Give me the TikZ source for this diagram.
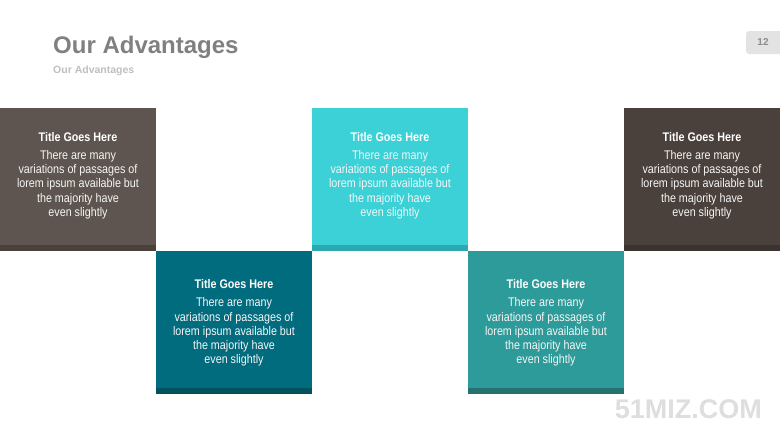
\documentclass[tikz,border=0pt]{standalone}
\usepackage{fontspec}
\setmainfont{Liberation Sans}
\newfontfamily\cardfont{Liberation Sans}[FakeStretch=0.86]
\usetikzlibrary{positioning}

\definecolor{taupe}{HTML}{5E5550}
\definecolor{taupedark}{HTML}{4A413D}
\definecolor{petrol}{HTML}{026C7F}
\definecolor{petroldark}{HTML}{01515F}
\definecolor{aqua}{HTML}{3BD1D6}
\definecolor{aquadark}{HTML}{2BA9AE}
\definecolor{jade}{HTML}{2D9B99}
\definecolor{jadedark}{HTML}{24716F}
\definecolor{cocoa}{HTML}{4A403C}
\definecolor{cocoadark}{HTML}{3A3330}

\tikzset{
  card/.style={rectangle, inner sep=0, anchor=north west, minimum width=156pt, minimum height=142.5pt},
  band/.style={rectangle, inner sep=0, anchor=south west, minimum width=156pt, minimum height=5.5pt},
  cardhead/.style={anchor=base, inner sep=0, text=white, font=\cardfont\bfseries\fontsize{12.5}{14}\selectfont},
  cardbody/.style={anchor=north, inner sep=0, align=center, text=white!93!gray, font=\cardfont\fontsize{12.5}{14.3}\selectfont}
}

\begin{document}
\begin{tikzpicture}[x=1pt, y=-1pt]
    \newcommand\CW{156}
    \newcommand\TopA{108}
    \newcommand\TopB{251}
    \newcommand\Blurb{There are many\\variations of passages of\\lorem ipsum available but\\the majority have\\even slightly}
    \useasboundingbox (0,0) rectangle (780,439);
    % heading
    \node[anchor=base west, inner sep=0, text=black!50, font=\bfseries\fontsize{24}{28}\selectfont] (Head) at (53,53) {Our Advantages};
    \node[anchor=base west, inner sep=0, text=black!25, font=\bfseries\fontsize{10.5}{12}\selectfont] (Sub) at (53,73) {Our Advantages};
    \fill[black!11, rounded corners=3pt] (746,31) rectangle (786,54);
    \node[inner sep=0, text=black!45, font=\bfseries\fontsize{10}{12}\selectfont] (Page) at (763,42.5) {12};
    % cards
    \node[card, fill=taupe] (C1) at (0,\TopA){};
    \node[card, fill=petrol] (C2) at (\CW,\TopB){};
    \node[card, fill=aqua] (C3) at (2*\CW,\TopA){};
    \node[card, fill=jade] (C4) at (3*\CW,\TopB){};
    \node[card, fill=cocoa] (C5) at (4*\CW,\TopA){};
    \node[band, fill=taupedark] (S1) at (C1.south west){};
    \node[band, fill=petroldark] (S2) at (C2.south west){};
    \node[band, fill=aquadark] (S3) at (C3.south west){};
    \node[band, fill=jadedark] (S4) at (C4.south west){};
    \node[band, fill=cocoadark] (S5) at (C5.south west){};
    % texts
    \node[cardhead] (T1) at (\CW/2, \TopA+33){Title Goes Here};
    \node[cardhead] (T2) at (1.5*\CW, \TopB+37){Title Goes Here};
    \node[cardhead] (T3) at (2.5*\CW, \TopA+33){Title Goes Here};
    \node[cardhead] (T4) at (3.5*\CW, \TopB+37){Title Goes Here};
    \node[cardhead] (T5) at (4.5*\CW, \TopA+33){Title Goes Here};
    \node[cardbody] (D1) at (\CW/2, \TopA+42){\Blurb};
    \node[cardbody] (D2) at (1.5*\CW, \TopB+46.5){\Blurb};
    \node[cardbody] (D3) at (2.5*\CW, \TopA+42){\Blurb};
    \node[cardbody] (D4) at (3.5*\CW, \TopB+46.5){\Blurb};
    \node[cardbody] (D5) at (4.5*\CW, \TopA+42){\Blurb};
    % watermark
    \node[anchor=base east, inner sep=0, text=black!13, font=\bfseries\fontsize{27}{30}\selectfont] (Mark) at (762,418) {51MIZ.COM};
  \end{tikzpicture}
\end{document}
